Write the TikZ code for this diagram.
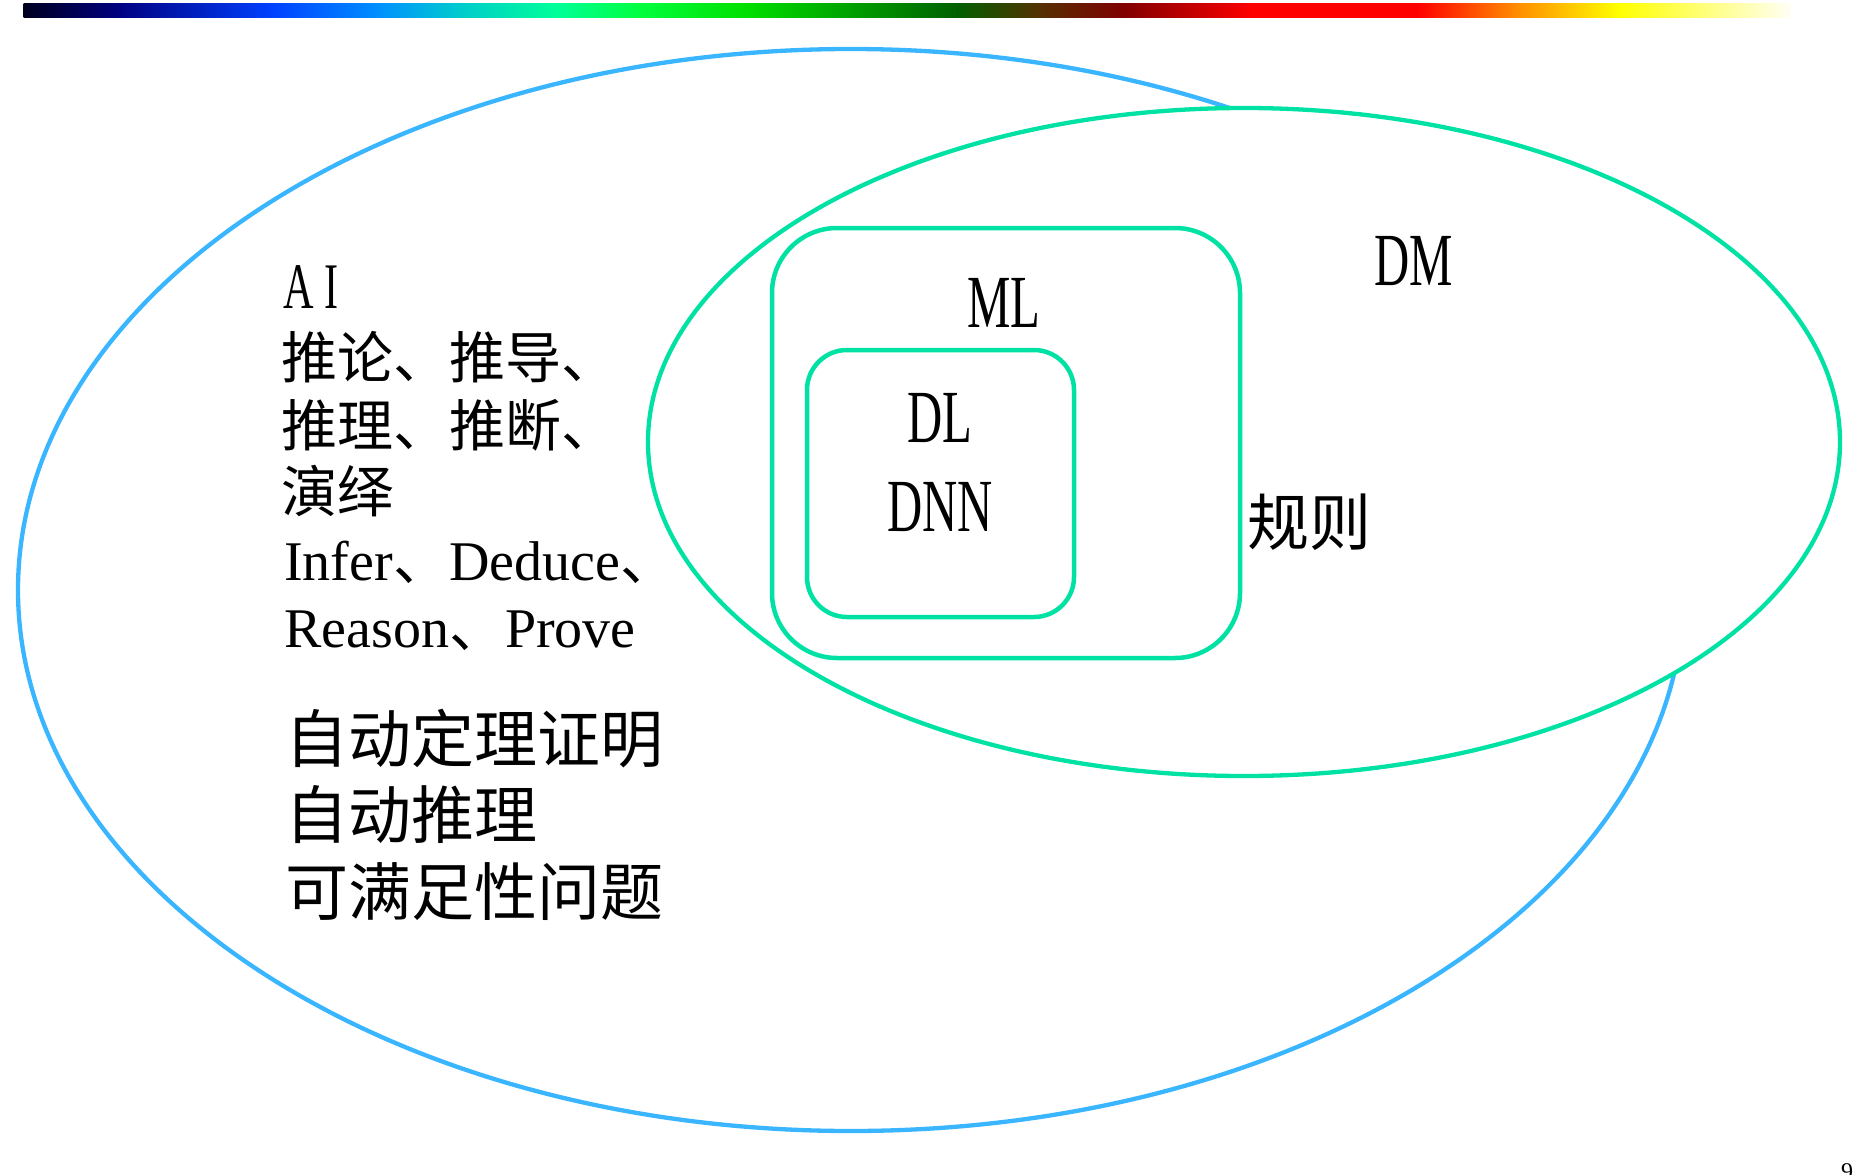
\documentclass[tikz,border=0pt]{standalone}
\usepackage{fontspec}
\setmainfont{Liberation Serif}
\newfontfamily\cjk{Noto Sans CJK SC}
\newfontfamily\narrowserif[FakeStretch=0.65]{Liberation Serif}
\usetikzlibrary{positioning}

\definecolor{aiblue}{HTML}{3AB5FF}
\definecolor{dmgreen}{HTML}{00E2A4}
\definecolor{bar0}{HTML}{000020}
\definecolor{bar1}{HTML}{000080}
\definecolor{bar2}{HTML}{0040FF}
\definecolor{bar3}{HTML}{0090FF}
\definecolor{bar4}{HTML}{00CCCC}
\definecolor{bar5}{HTML}{00FF99}
\definecolor{bar6}{HTML}{00FF40}
\definecolor{bar7}{HTML}{00E000}
\definecolor{bar8}{HTML}{00A000}
\definecolor{bar9}{HTML}{006000}
\definecolor{bar10}{HTML}{553000}
\definecolor{bar11}{HTML}{800000}
\definecolor{bar12}{HTML}{FF0000}
\definecolor{bar13}{HTML}{FF8800}
\definecolor{bar14}{HTML}{FFFF00}
\definecolor{bar15}{HTML}{FFFFF4}

\begin{document}
\begin{tikzpicture}[x=1pt, y=-1pt,
    every node/.style={inner sep=0pt, anchor=base west},
    aiset/.style={draw=aiblue, line width=4.3pt},
    dmset/.style={draw=dmgreen, fill=white, line width=4.3pt},
    mlbox/.style={draw=dmgreen, line width=4.5pt},
    small/.style={font=\cjk\fontsize{56}{60}\selectfont},
    latin/.style={font=\fontsize{56}{60}\selectfont},
    large/.style={font=\cjk\fontsize{63}{70}\selectfont},
    tag/.style={font=\narrowserif\fontsize{75}{80}\selectfont}]
    \path[fill=white] (0,0) rectangle (1853,1175);
    \useasboundingbox (0,0) rectangle (1853,1175);

    \foreach \xa/\ca/\xb/\cb in {24/bar0/118/bar1, 118/bar1/272/bar2, 272/bar2/378/bar3,
        378/bar3/461/bar4, 461/bar4/556/bar5, 556/bar5/638/bar6, 638/bar6/745/bar7,
        745/bar7/851/bar8, 851/bar8/957/bar9, 957/bar9/1040/bar10, 1040/bar10/1123/bar11,
        1123/bar11/1253/bar12, 1253/bar12/1418/bar12, 1418/bar12/1513/bar13,
        1513/bar13/1619/bar14, 1619/bar14/1790/bar15}
        \shade[left color=\ca, right color=\cb] (\xa-0.5,3) rectangle (\xb+0.5,17);

    \draw[aiset] (851,590) ellipse [x radius=833pt, y radius=541pt];
    \draw[dmset] (1244,442) ellipse [x radius=596pt, y radius=334pt];
    \draw[mlbox, rounded corners=65pt] (772,228) rectangle (1240,658);
    \draw[mlbox, rounded corners=40pt] (807,350) rectangle (1074,617);

    \node[font=\narrowserif\fontsize{65}{70}\selectfont] (AI)    at (283,308)  {A\,I};
    \node[small]            (Infer1)  at (281,378)  {推论、推导、};
    \node[small]            (Infer2)  at (281,446)  {推理、推断、};
    \node[small]            (Infer3)  at (281,512)  {演绎};
    \node[latin]            (Infer4)  at (284,580)  {Infer{\cjk 、}Deduce{\cjk 、}};
    \node[latin]            (Infer5)  at (284,647)  {Reason{\cjk 、}Prove};
    \node[large]            (Atp)     at (285,762)  {自动定理证明};
    \node[large]            (Ar)      at (285,838)  {自动推理};
    \node[large]            (Sat)     at (285,915)  {可满足性问题};

    \node[tag, anchor=base] (ML)      at (1004,327) {ML};
    \node[tag, anchor=base] (DL)      at (940,442)  {DL};
    \node[tag, anchor=base] (DNN)     at ([yshift=-89pt]DL.base) {DNN};
    \node[tag, anchor=base] (DM)      at (1414,285) {DM};
    \node[font=\cjk\fontsize{62}{70}\selectfont] (Rules) at (1247,545) {规则};

    \node[font=\fontsize{24}{28}\selectfont] (Page) at (1841,1179) {9};
\end{tikzpicture}
\end{document}
